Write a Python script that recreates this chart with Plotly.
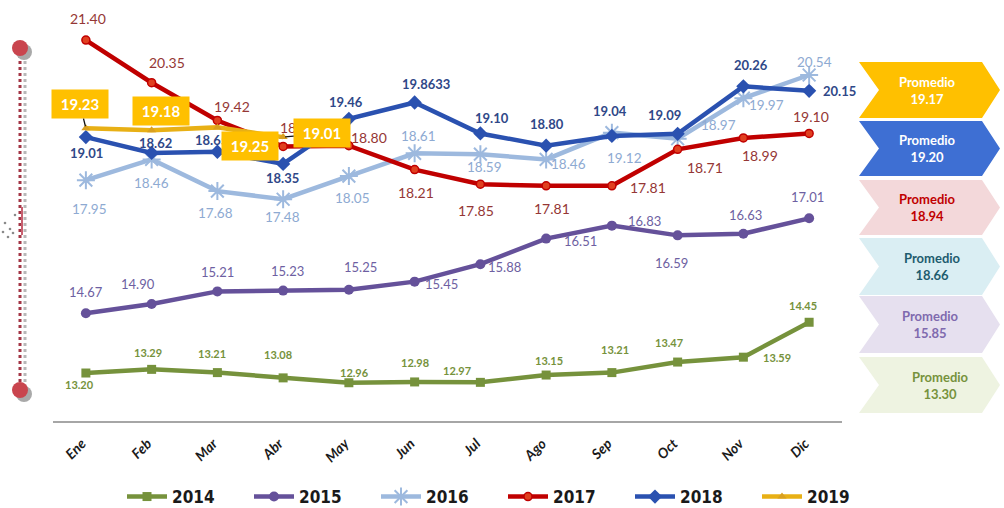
import plotly.graph_objects as go

# ---------------- data ----------------
months = ["Ene", "Feb", "Mar", "Abr", "May", "Jun", "Jul", "Ago", "Sep", "Oct", "Nov", "Dic"]
years = ["2014", "2015", "2016", "2017", "2018", "2019"]
v2014 = [13.20, 13.29, 13.21, 13.08, 12.96, 12.98, 12.97, 13.15, 13.21, 13.47, 13.59, 14.45]
v2015 = [14.67, 14.90, 15.21, 15.23, 15.25, 15.45, 15.88, 16.51, 16.83, 16.59, 16.63, 17.01]
v2016 = [17.95, 18.46, 17.68, 17.48, 18.05, 18.61, 18.59, 18.46, 19.12, 18.97, 19.97, 20.54]
v2017 = [21.40, 20.35, 19.42, 18.78, 18.80, 18.21, 17.85, 17.81, 17.81, 18.71, 18.99, 19.10]
v2018 = [19.01, 18.62, 18.65, 18.35, 19.46, 19.8633, 19.10, 18.80, 19.04, 19.09, 20.26, 20.15]
v2019 = [19.23, 19.18, 19.25, 19.01]
promedio_labels = ["2019", "2018", "2017", "2016", "2015", "2014"]
promedio_values = ["19.17", "19.20", "18.94", "18.66", "15.85", "13.30"]

values = {"2014": v2014, "2015": v2015, "2016": v2016, "2017": v2017, "2018": v2018, "2019": v2019}

# ---------------- styles ----------------
FONT = "Lato, 'Open Sans', sans-serif"
line_col = {"2014": "#76923C", "2015": "#65519A", "2016": "#9DB9DE", "2017": "#C00000",
            "2018": "#2A51B0", "2019": "#E8B015"}
marker_style = {
    "2014": dict(symbol="square", size=9, color="#76923C"),
    "2015": dict(symbol="circle", size=10, color="#65519A"),
    "2016": dict(symbol="asterisk-open", size=15, color="#9DB9DE", line=dict(width=2, color="#9DB9DE")),
    "2017": dict(symbol="circle", size=8, color="#E04020", line=dict(width=1.5, color="#C00000")),
    "2018": dict(symbol="diamond", size=11, color="#2A51B0"),
    "2019": dict(symbol="triangle-up", size=8, color="#D9A020"),
}
label_font = {
    "2014": dict(size=11, color="#76923C", weight="bold"),
    "2015": dict(size=13, color="#6E5FA2"),
    "2016": dict(size=13.5, color="#8EAAD2"),
    "2017": dict(size=14, color="#953735"),
    "2018": dict(size=13, color="#2F4888", weight="bold"),
}
# label offsets in screen pixels (dx right, dy up)
label_dx = {
    "2014": [-6, -4, -5, -5, 6, 0, -23, 3, 3, -9, 34, -6],
    "2015": [0, -14, 0, 4, 12, 27, 24, 34, 33, -6, 2, -2],
    "2016": [4, 0, -2, -1, 4, 4, 4, 22, 13, 41, 23, 5],
    "2017": [2, 15, 15, 15, 20, 1, -4, 6, 36, 27, 17, 2],
    "2018": [1, 4, -6, -1, -3, 11, 12, 1, -2, -13, 8, 30],
}
label_dy = {
    "2014": [-11, 17, 19, 23, 10, 19, 12, 15, 23, 20, 0, 17],
    "2015": [21, 20, 19, 20, 23, -2, -3, -2, 5, -28, 19, 21],
    "2016": [-29, -24, -22, -18, -22, 17, -13, -5, -25, 14, -7, 13],
    "2017": [22, 20, 14, 19, 8, -23, -26, -23, -2, -18, -18, 17],
    "2018": [-16, 10, 12, -14, 17, 18, 15, 22, 25, 19, 21, 0],
}
box_ax = [-6, 9, 33, 39]
box_ay = [-24, -19, 19, -4]
box_leader = [True, False, False, True]

chev_fill = ["#FFC000", "#3E6FD3", "#F3D8DA", "#DAEEF3", "#E6E0EF", "#EEF3E1"]
chev_text = ["#FFFFFF", "#FFFFFF", "#C00000", "#1E5C6E", "#7F6AAE", "#76923C"]
chev_top = [62, 121, 180, 238, 296, 357]
chev_bot = [118, 176, 235, 295, 353, 413]
chev_tx = [927, 927, 927, 933, 930, 940]

# ---------------- geometry ----------------
W, H = 1004, 508
L, R, T, B = 53, 842, 10, 421
Y_LO, Y_HI = 12.018, 22.141


def px(x):
    return (x - L) / (R - L)


def py(y):
    return (B - y) / (B - T)


fig = go.Figure()
for yr in years:
    vals = values[yr]
    fig.add_trace(go.Scatter(
        x=months[:len(vals)], y=vals, name=yr, mode="lines+markers",
        line=dict(color=line_col[yr], width=4.5),
        marker=marker_style[yr],
        hoverinfo="x+y+name",
    ))

annotations = []
for yr in ["2014", "2015", "2016", "2017", "2018"]:
    vals = values[yr]
    for i, v in enumerate(vals):
        annotations.append(dict(
            x=months[i], y=v, xref="x", yref="y", text=f"{v:.2f}" if yr != "2018" or i != 5 else f"{v:.4f}",
            showarrow=False, xshift=label_dx[yr][i], yshift=label_dy[yr][i],
            font=dict(family=FONT, **label_font[yr]),
        ))
for i, v in enumerate(v2019):
    annotations.append(dict(
        x=months[i], y=v, xref="x", yref="y", text=f"&nbsp;<b>{v:.2f}</b>&nbsp;",
        showarrow=True, ax=box_ax[i], ay=box_ay[i], arrowhead=0, arrowwidth=1.3,
        xanchor="center", yanchor="middle",
        arrowcolor="#111111" if box_leader[i] else "rgba(0,0,0,0)", standoff=2,
        bgcolor="#FFC000", borderpad=5,
        font=dict(family=FONT, size=15, color="#FFFFFF"),
    ))

shapes = []
# chevrons
CL, CN, CS, CT = 859, 879, 982, 1000
for i in range(len(promedio_values)):
    t, b = chev_top[i], chev_bot[i]
    m = (t + b) / 2
    path = (f"M{px(CL)},{py(t)} L{px(CS)},{py(t)} L{px(CT)},{py(m)} L{px(CS)},{py(b)} "
            f"L{px(CL)},{py(b)} L{px(CN)},{py(m)} Z")
    shapes.append(dict(type="path", xref="paper", yref="paper", path=path,
                       fillcolor=chev_fill[i], line=dict(width=0), layer="below"))
    annotations.append(dict(
        x=px(chev_tx[i]), y=py(m), xref="paper", yref="paper", showarrow=False,
        xanchor="center", yanchor="middle",
        text=f"<b>Promedio<br>{promedio_values[i]}</b>",
        font=dict(family=FONT, size=13, color=chev_text[i]), align="center",
    ))

# left decoration: dotted bar with end circles
shapes.append(dict(type="line", xref="paper", yref="paper", x0=px(25), x1=px(25), y0=py(55), y1=py(392),
                   line=dict(color="#B8B8B8", width=3, dash="dot")))
shapes.append(dict(type="line", xref="paper", yref="paper", x0=px(20), x1=px(20), y0=py(55), y1=py(390),
                   line=dict(color="#A33545", width=3, dash="dot")))
shapes.append(dict(type="line", xref="paper", yref="paper", x0=px(22), x1=px(22), y0=py(207), y1=py(235),
                   line=dict(color="#C86070", width=2)))
for (dx, dy) in [(15, 215), (5, 223), (10, 229), (3, 232), (13, 233), (8, 237)]:
    shapes.append(dict(type="circle", xref="paper", yref="paper", x0=px(dx - 1.3), x1=px(dx + 1.3),
                       y0=py(dy + 1.3), y1=py(dy - 1.3), fillcolor="#8A8A8A", line=dict(width=0)))
for cy in [48, 390]:
    shapes.append(dict(type="circle", xref="paper", yref="paper", x0=px(16), x1=px(32),
                       y0=py(cy + 12), y1=py(cy - 4), fillcolor="#A9A9A9", line=dict(width=0)))
    shapes.append(dict(type="circle", xref="paper", yref="paper", x0=px(12), x1=px(28),
                       y0=py(cy + 8), y1=py(cy - 8), fillcolor="#C9454E", line=dict(width=0)))

fig.update_layout(
    width=W, height=H,
    margin=dict(l=L, r=W - R, t=T, b=H - B, pad=0, autoexpand=False),
    paper_bgcolor="white", plot_bgcolor="white",
    font=dict(family=FONT),
    xaxis=dict(range=[-0.5, 11.5], showgrid=False, showline=True, linecolor="#A6A6A6", linewidth=2,
               ticks="", tickangle=-45, automargin=False, ticklabelshift=-4, ticklabelstandoff=7,
               tickfont=dict(family=FONT, size=14, color="#1A1A1A", weight="bold", style="italic"),
               zeroline=False, fixedrange=True),
    yaxis=dict(range=[Y_LO, Y_HI], visible=False, showgrid=False, zeroline=False, fixedrange=True,
               automargin=False),
    showlegend=True,
    legend=dict(orientation="h", x=px(122), xanchor="left", y=py(497), yanchor="middle",
                entrywidth=72, entrywidthmode="pixels",
                font=dict(family="'DejaVu Sans Condensed', 'Liberation Sans Narrow', sans-serif", size=17,
                          color="#1A1A1A", weight="bold"),
                bgcolor="rgba(0,0,0,0)", itemwidth=40),
    annotations=annotations,
    shapes=shapes,
)

fig.write_html("out.html", config={"displayModeBar": False},
               post_script="document.body.style.margin='0';")
